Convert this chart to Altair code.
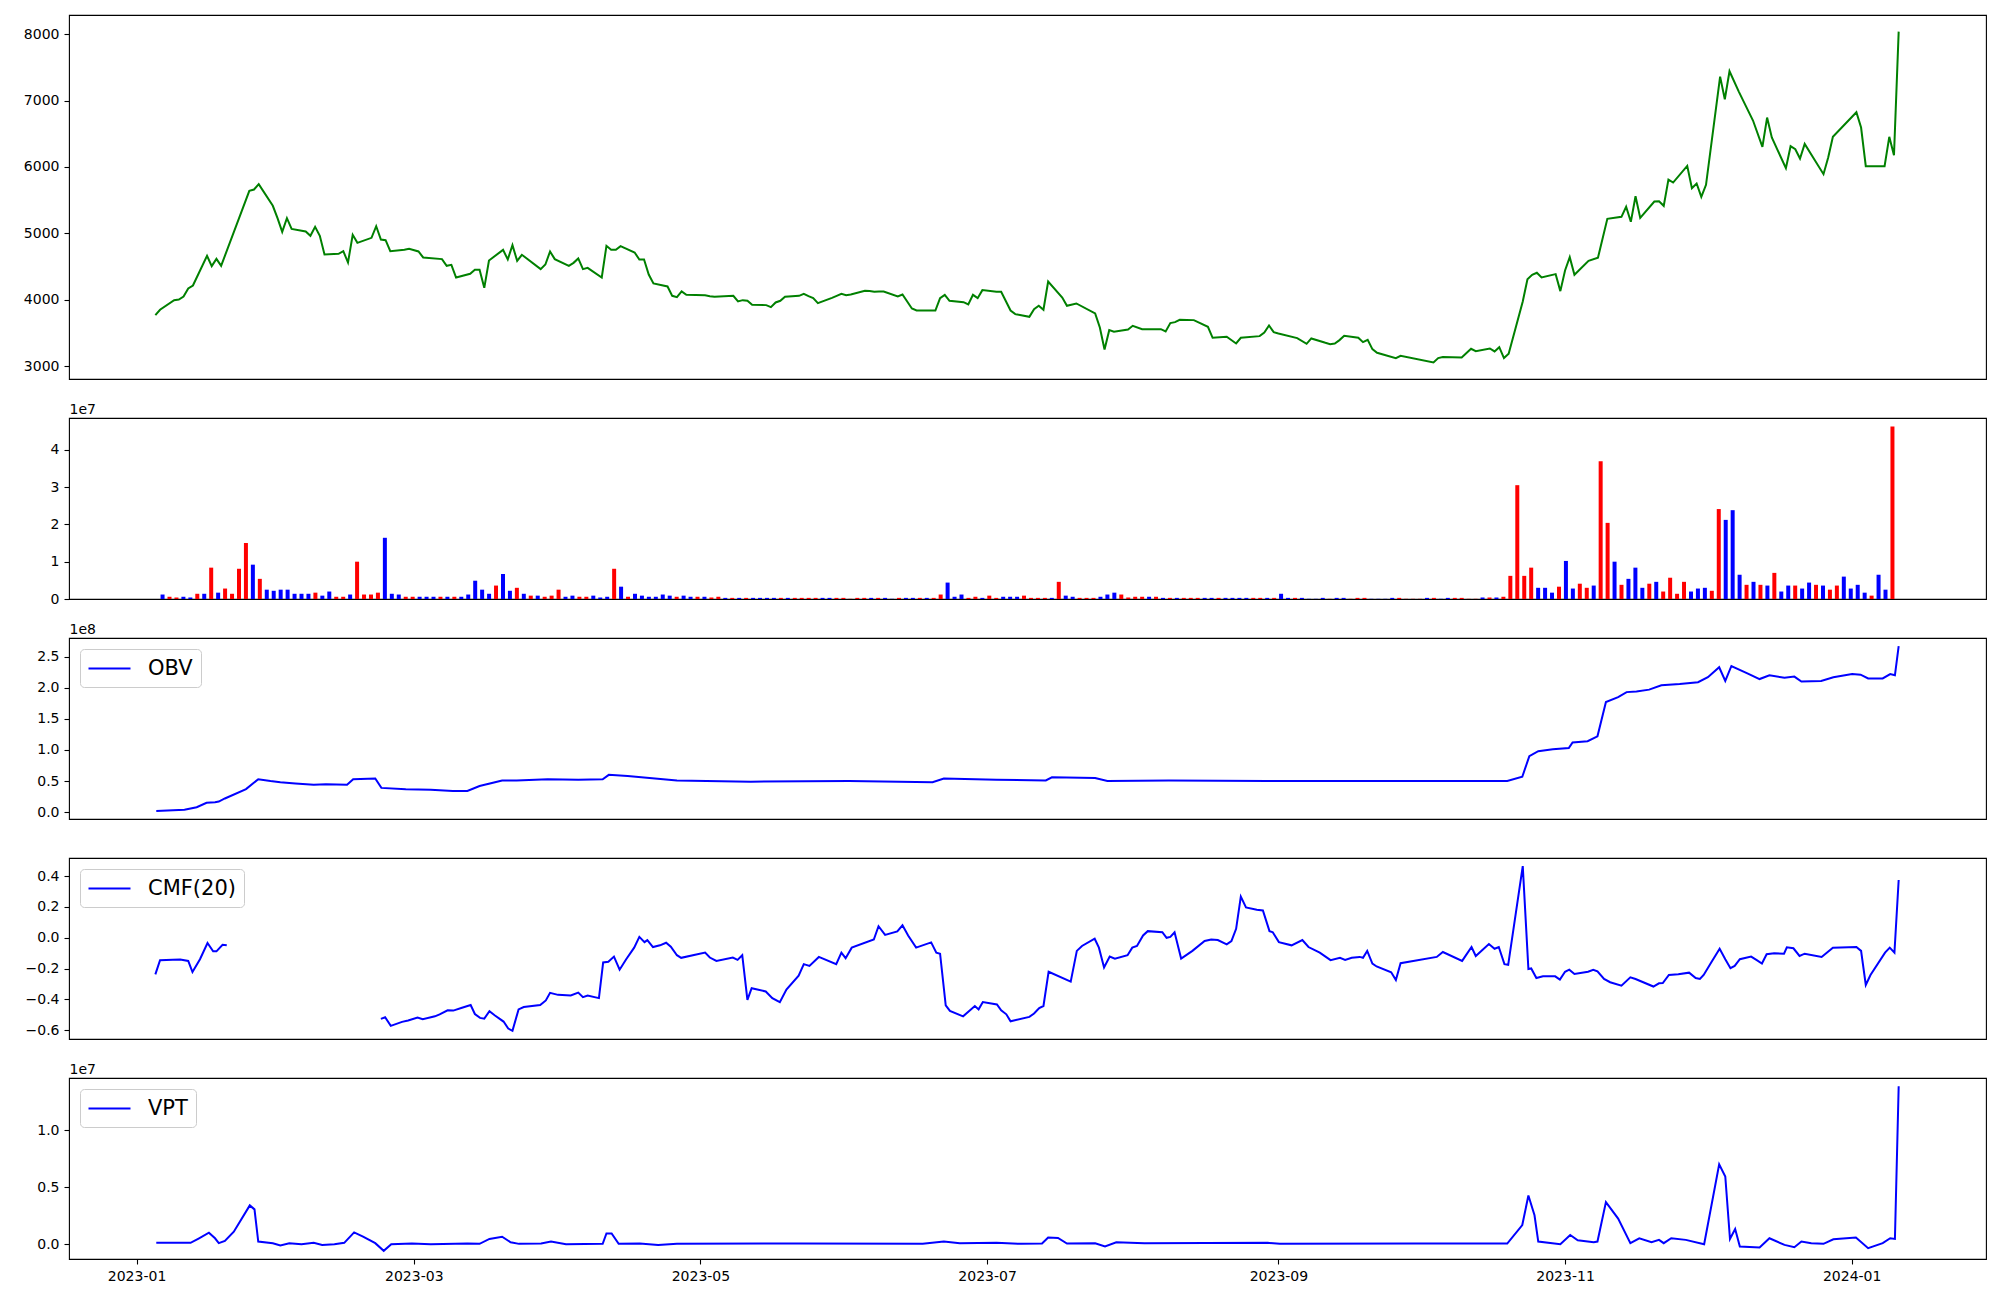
import altair as alt
import pandas as pd

# ---------------- data ----------------
# day offsets counted from 2023-01-01
price_day = [4, 5, 8, 9, 10, 11, 12, 15, 16, 17, 18, 24, 25, 26, 29, 30, 31, 32, 33, 36, 37, 38, 39, 40,
             43, 44, 45, 46, 47, 50, 51, 52, 53, 54, 57, 58, 60, 61, 65, 66, 67, 68, 71, 72, 73, 74, 75,
             78, 79, 80, 81, 82, 86, 87, 88, 89, 92, 93, 94, 95, 96, 99, 100, 101, 102, 103, 106, 107,
             108, 109, 110, 113, 114, 115, 116, 117, 121, 122, 123, 127, 128, 129, 130, 131, 134, 135,
             136, 137, 138, 141, 142, 143, 144, 145, 148, 149, 150, 151, 152, 155, 156, 157, 158, 159,
             162, 163, 165, 166, 170, 171, 172, 173, 176, 177, 178, 179, 180, 183, 184, 186, 187, 190,
             191, 192, 193, 194, 197, 198, 200, 204, 205, 206, 207, 208, 211, 212, 214, 218, 219, 220,
             221, 222, 225, 228, 229, 232, 234, 235, 239, 240, 241, 242, 243, 247, 249, 250, 253, 254,
             255, 256, 257, 260, 261, 262, 263, 264, 268, 269, 276, 277, 278, 282, 284, 285, 288, 289,
             290, 291, 292, 295, 296, 297, 298, 299, 302, 303, 304, 305, 306, 309, 311, 313, 316, 317,
             318, 319, 320, 323, 324, 325, 326, 327, 330, 331, 332, 333, 334, 337, 338, 339, 341, 344,
             346, 347, 348, 351, 352, 353, 354, 355, 359, 360, 361, 366, 367, 368, 372, 373, 374, 375]
price_val = [3768, 3849, 3994, 4004, 4049, 4170, 4215, 4662, 4506, 4616, 4511, 5641, 5661, 5741, 5415,
             5229, 5023, 5229, 5068, 5028, 4963, 5098, 4963, 4682, 4692, 4732, 4561, 4978, 4857, 4933,
             5108, 4908, 4898, 4732, 4752, 4767, 4727, 4637, 4612, 4511, 4526, 4335, 4391, 4451, 4451,
             4180, 4591, 4752, 4607, 4822, 4586, 4677, 4461, 4531, 4727, 4612, 4511, 4556, 4622, 4461,
             4481, 4335, 4812, 4752, 4752, 4807, 4712, 4607, 4607, 4380, 4245, 4200, 4059, 4039, 4125,
             4074, 4069, 4054, 4044, 4059, 3974, 3994, 3984, 3924, 3919, 3889, 3959, 3984, 4044, 4059,
             4089, 4054, 4024, 3949, 4029, 4059, 4089, 4069, 4079, 4135, 4130, 4120, 4125, 4125, 4049,
             4079, 3869, 3838, 3838, 4024, 4074, 3984, 3964, 3929, 4074, 4024, 4145, 4120, 4120, 3838,
             3783, 3743, 3859, 3909, 3849, 4275, 4034, 3909, 3944, 3793, 3582, 3251, 3542, 3517, 3552,
             3607, 3557, 3557, 3522, 3648, 3663, 3698, 3693, 3592, 3427, 3442, 3341, 3427, 3452, 3507,
             3612, 3512, 3492, 3422, 3336, 3417, 3351, 3331, 3341, 3392, 3457, 3427, 3361, 3397, 3256,
             3201, 3121, 3156, 3055, 3121, 3136, 3131, 3261, 3226, 3266, 3221, 3286, 3121, 3186, 3974,
             4310, 4376, 4406, 4335, 4386, 4130, 4441, 4642, 4376, 4586, 4632, 5219, 5249, 5400, 5174,
             5560, 5234, 5480, 5485, 5415, 5811, 5766, 6017, 5681, 5751, 5550, 5731, 7362, 7021, 7443,
             7132, 6700, 6303, 6745, 6444, 5982, 6313, 6268, 6127, 6348, 5892, 6143, 6454, 6825, 6594,
             6012, 6012, 6454, 6178, 8040]

# volume, in units of 1e7, one bar per session (bars are evenly spaced)
vol_val = [0.12, 0.06, 0.04, 0.06, 0.04, 0.14, 0.14, 0.84, 0.17, 0.28,
           0.14, 0.81, 1.50, 0.92, 0.54, 0.25, 0.22, 0.25, 0.25, 0.14,
           0.14, 0.14, 0.17, 0.09, 0.20, 0.06, 0.06, 0.12, 1.00, 0.12,
           0.12, 0.17, 1.64, 0.14, 0.12, 0.06, 0.06, 0.06, 0.06, 0.06,
           0.06, 0.06, 0.06, 0.06, 0.12, 0.49, 0.25, 0.14, 0.36, 0.67,
           0.22, 0.30, 0.14, 0.09, 0.09, 0.06, 0.09, 0.25, 0.06, 0.09,
           0.06, 0.06, 0.09, 0.04, 0.06, 0.81, 0.33, 0.06, 0.14, 0.09,
           0.06, 0.06, 0.12, 0.09, 0.06, 0.09, 0.06, 0.06, 0.06, 0.04,
           0.06, 0.03, 0.03, 0.03, 0.03, 0.03, 0.03, 0.03, 0.03, 0.03,
           0.03, 0.03, 0.03, 0.03, 0.03, 0.03, 0.03, 0.03, 0.03, 0.005,
           0.03, 0.03, 0.03, 0.03, 0.03, 0.005, 0.03, 0.03, 0.03, 0.03,
           0.03, 0.03, 0.12, 0.44, 0.06, 0.12, 0.03, 0.06, 0.03, 0.09,
           0.03, 0.06, 0.06, 0.06, 0.09, 0.03, 0.03, 0.03, 0.03, 0.46,
           0.09, 0.06, 0.03, 0.03, 0.03, 0.06, 0.12, 0.17, 0.12, 0.04,
           0.06, 0.06, 0.06, 0.06, 0.03, 0.03, 0.03, 0.03, 0.03, 0.03,
           0.03, 0.03, 0.03, 0.03, 0.03, 0.03, 0.03, 0.03, 0.03, 0.03,
           0.03, 0.14, 0.03, 0.03, 0.03, 0.005, 0.005, 0.03, 0.005, 0.03,
           0.03, 0.005, 0.03, 0.03, 0.005, 0.005, 0.005, 0.03, 0.03, 0.005,
           0.005, 0.005, 0.03, 0.03, 0.005, 0.03, 0.03, 0.03, 0.005, 0.005,
           0.04, 0.04, 0.04, 0.06, 0.62, 3.05, 0.62, 0.84, 0.30, 0.30,
           0.17, 0.33, 1.02, 0.28, 0.41, 0.30, 0.36, 3.69, 2.04, 1.00,
           0.38, 0.54, 0.84, 0.30, 0.41, 0.46, 0.20, 0.57, 0.14, 0.46,
           0.20, 0.28, 0.30, 0.22, 2.41, 2.12, 2.38, 0.65, 0.38, 0.46,
           0.38, 0.36, 0.70, 0.20, 0.36, 0.36, 0.28, 0.44, 0.38, 0.36,
           0.25, 0.36, 0.60, 0.28, 0.38, 0.17, 0.09, 0.65, 0.25, 4.62]
# r = red bar, b = blue bar
vol_dir = list("brrbbrbrbr" "rrrbrbbbbb" "bbrbbrrbrr" "rrbbbrrbbb" "rbrbbbbbrb"
               "brbrbrrrbb" "rrbbbrbrbb" "bbbbrbbrbr" "rbrbrbbbbr" "brrrrbbrrr"
               "rrbrbbrbbr" "brrbbbrrbr" "rbbbrrrrbr" "bbrrrbbbrr" "rrbrbrbrrr"
               "bbrbbbbrrb" "rbbrbbbbrb" "brrrbbbbrr" "rrbrbbrrrr" "brbrrrrrbb"
               "brbbrrbrrb" "rbbbrbrrrr" "bbbrrbbbrb" "rbrbbrbbrb" "rrbbbbrbbr")
vol_first_day = 4.57
vol_last_day = 374.64

# OBV, in units of 1e8
obv_day = [4.2, 10.2, 12.8, 14.9, 16.7, 17.5, 18.8, 23.3, 25.9, 28.5, 30.6, 33.8, 37.7, 40.3, 44.8,
           46.1, 50.8, 52.1, 57.3, 62.6, 67.3, 70.4, 73.0, 77.8, 80.9, 87.5, 94.0, 99.2, 100.5, 104.5,
           115, 130.7, 151.6, 169.4, 171.8, 183, 193.5, 194.8, 204, 206.6, 219.7, 240.7, 272.1,
           291.7, 294.9, 296.4, 298.3, 301.4, 304.8, 305.6, 308.8, 310.9, 312.7, 315.3, 317.1, 319.2,
           321.9, 324.5, 328.4, 332.3, 334.4, 336.8, 338.1, 339.4, 342.8, 345.4, 347.5, 350.7, 352.8,
           354.3, 358.5, 361.1, 365.1, 366.9, 368.5, 371.6, 373.2, 374.2, 375]
obv_val = [0.02, 0.04, 0.08, 0.15, 0.16, 0.17, 0.22, 0.37, 0.53, 0.50, 0.48, 0.46, 0.44, 0.45, 0.44,
           0.53, 0.54, 0.39, 0.37, 0.36, 0.34, 0.34, 0.42, 0.51, 0.51, 0.53, 0.52, 0.53, 0.60, 0.58,
           0.51, 0.49, 0.50, 0.48, 0.54, 0.52, 0.51, 0.56, 0.55, 0.50, 0.51, 0.50, 0.50,
           0.50, 0.57, 0.90, 0.98, 1.01, 1.03, 1.12, 1.14, 1.22, 1.77, 1.85, 1.93, 1.94,
           1.97, 2.04, 2.06, 2.09, 2.17, 2.33, 2.11, 2.35, 2.23, 2.14, 2.20, 2.16, 2.18,
           2.10, 2.11, 2.17, 2.22, 2.21, 2.15, 2.15, 2.22, 2.20, 2.67]

# CMF(20): two pieces, no values in between
cmf1_day = [4.0, 5.0, 7.7, 9.3, 11.0, 11.9, 13.5, 15.1, 16.3, 17.0, 18.3, 19.2]
cmf1_val = [-0.237, -0.145, -0.143, -0.141, -0.150, -0.222, -0.139, -0.034, -0.088, -0.088, -0.045, -0.049]
cmf2_day = [52.0, 52.9, 54.1, 56.5, 57.8, 59.8, 60.9, 63.5, 64.5, 66.2, 67.4, 69.1, 71.1, 72.0, 73.1,
            74.0, 75.1, 76.2, 78.1, 79.1, 80.0, 81.3, 82.4, 85.9, 87.1, 88.0, 89.7, 92.4, 94.0, 95.0,
            96.0, 98.4, 99.3, 100.4, 101.6, 102.8, 104.2, 105.9, 107.0, 108.1, 108.7, 109.9, 111.4,
            112.7, 113.7, 115.0, 115.9, 121.0, 122.0, 123.4, 126.9, 127.9, 128.9, 130.0, 130.9, 133.9,
            135.3, 136.9, 138.3, 140.9, 142.0, 143.2, 145.2, 148.9, 150.0, 150.9, 152.2, 156.9, 157.9,
            159.3, 161.9, 163.0, 164.2, 165.9, 169.1, 170.2, 171.0, 172.2, 173.1, 175.9, 178.4, 179.2,
            180.1, 183.1, 184.0, 185.1, 186.0, 190.0, 191.0, 192.1, 193.0, 194.1, 198.8, 200.1, 201.2,
            203.9, 204.8, 205.9, 207.1, 208.2, 210.9, 211.9, 212.9, 214.2, 215.2, 218.3, 219.2, 220.0,
            220.9, 222.3, 224.7, 227.3, 228.7, 230.1, 232.0, 233.0, 234.0, 235.0, 236.1, 238.4, 239.7,
            241.1, 241.8, 243.1, 245.8, 248.1, 249.4, 251.8, 254.1, 256.1, 257.2, 258.6, 260.3, 261.0,
            261.9, 263.0, 263.9, 267.0, 268.0, 269.0, 276.7, 278.0, 282.1, 284.1, 285.0, 287.8, 289.0,
            289.9, 291.1, 291.9, 295.0, 296.2, 296.8, 297.9, 299.3, 301.9, 302.9, 304.0, 304.9, 306.0,
            308.9, 310.0, 310.9, 312.3, 313.6, 316.0, 317.9, 319.0, 322.8, 324.0, 324.8, 326.1, 328.1,
            330.4, 331.8, 332.7, 333.5, 335.1, 336.9, 338.1, 339.2, 340.1, 341.2, 343.6, 344.8, 345.9,
            346.9, 348.5, 350.6, 351.2, 352.6, 353.9, 355.0, 358.6, 361.0, 366.0, 367.0, 368.0, 369.0,
            372.1, 373.1, 374.1, 375.0]
cmf2_val = [-0.526, -0.515, -0.571, -0.545, -0.536, -0.517, -0.528, -0.509, -0.496, -0.470, -0.472,
            -0.455, -0.436, -0.494, -0.519, -0.524, -0.476, -0.502, -0.543, -0.588, -0.603, -0.464,
            -0.449, -0.436, -0.406, -0.357, -0.370, -0.374, -0.355, -0.385, -0.374, -0.391, -0.160,
            -0.156, -0.122, -0.207, -0.139, -0.064, 0.006, -0.028, -0.015, -0.060, -0.049, -0.032,
            -0.058, -0.113, -0.130, -0.096, -0.128, -0.150, -0.128, -0.143, -0.113, -0.402, -0.327,
            -0.348, -0.391, -0.417, -0.335, -0.246, -0.171, -0.182, -0.124, -0.171, -0.096, -0.132,
            -0.064, -0.011, 0.075, 0.019, 0.041, 0.081, 0.015, -0.064, -0.030, -0.096, -0.103, -0.438,
            -0.474, -0.509, -0.442, -0.464, -0.417, -0.432, -0.470, -0.496, -0.541, -0.513, -0.491,
            -0.455, -0.442, -0.220, -0.284, -0.085, -0.053, -0.006, -0.064, -0.192, -0.122, -0.135,
            -0.113, -0.064, -0.053, 0.015, 0.043, 0.036, 0.000, 0.006, 0.036, -0.135, -0.085, -0.021,
            -0.011, -0.015, -0.043, -0.021, 0.058, 0.267, 0.197, 0.182, 0.177, 0.043, 0.036, -0.028,
            -0.049, -0.015, -0.060, -0.096, -0.145, -0.130, -0.143, -0.130, -0.124, -0.130, -0.085,
            -0.167, -0.186, -0.224, -0.274, -0.165, -0.124, -0.092, -0.150, -0.060, -0.118, -0.041,
            -0.071, -0.060, -0.171, -0.175, 0.464, -0.203, -0.199, -0.261, -0.250, -0.250, -0.271,
            -0.220, -0.207, -0.235, -0.220, -0.207, -0.218, -0.267, -0.288, -0.310, -0.256, -0.267,
            -0.316, -0.295, -0.293, -0.241, -0.237, -0.226, -0.261, -0.267, -0.241, -0.160, -0.071,
            -0.139, -0.197, -0.182, -0.139, -0.122, -0.145, -0.167, -0.107, -0.100, -0.103, -0.062,
            -0.068, -0.118, -0.103, -0.124, -0.064, -0.060, -0.085, -0.306, -0.241, -0.096, -0.064,
            -0.096, 0.374]

# VPT, in units of 1e7
vpt_day = [4.2, 11.5, 13.3, 15.4, 16.7, 17.5, 18.8, 20.7, 24.1, 25.1, 25.9, 29.0, 30.6, 32.5, 35.1,
           37.7, 39.5, 42.1, 44.2, 46.3, 48.2, 50.8, 52.6, 54.2, 58.6, 62.6, 70.4, 73.0, 75.1, 77.8,
           79.6, 81.4, 86.1, 88.2, 91.4, 99.2, 100.0, 101.1, 102.6, 107.1, 111.0, 115.0, 141.1, 167.3,
           171.8, 175.2, 183.0, 188.3, 192.7, 194.0, 196.1, 198.0, 204.0, 206.1, 208.5, 214.5, 240.7,
           243.3, 272.1, 291.7, 294.9, 296.2, 297.5, 298.3, 303.0, 305.1, 306.7, 310.1, 310.9, 312.7,
           315.3, 317.9, 319.8, 322.4, 324.0, 325.0, 326.6, 329.7, 333.6, 336.8, 338.1, 339.1, 340.2,
           341.2, 345.4, 347.5, 350.7, 352.8, 354.3, 356.4, 359.0, 361.1, 365.9, 368.5, 371.6, 373.2,
           374.2, 375.0]
vpt_val = [0.012, 0.012, 0.052, 0.101, 0.052, 0.009, 0.029, 0.110, 0.341, 0.306, 0.023, 0.009, -0.012,
           0.009, 0.000, 0.012, -0.006, 0.000, 0.012, 0.104, 0.066, 0.009, -0.058, 0.000, 0.006, 0.000,
           0.006, 0.003, 0.046, 0.066, 0.017, 0.003, 0.006, 0.023, 0.000, 0.003, 0.095, 0.095, 0.003,
           0.006, -0.006, 0.003, 0.006, 0.003, 0.023, 0.009, 0.012, 0.003, 0.006, 0.058, 0.055, 0.006,
           0.009, -0.020, 0.017, 0.009, 0.012, 0.003, 0.006, 0.006, 0.168, 0.428, 0.254, 0.023, 0.000,
           0.081, 0.035, 0.017, 0.023, 0.370, 0.225, 0.009, 0.052, 0.017, 0.038, 0.009, 0.052, 0.038,
           0.000, 0.702, 0.595, 0.046, 0.133, -0.020, -0.029, 0.052, -0.006, -0.026, 0.023, 0.009,
           0.003, 0.043, 0.058, -0.035, 0.009, 0.052, 0.046, 1.387]

x_ticks = [(2023, 1), (2023, 3), (2023, 5), (2023, 7), (2023, 9), (2023, 11), (2024, 1)]

# ---------------- build ----------------
BASE = pd.Timestamp("2023-01-01")


def to_dates(days):
    return [BASE + pd.Timedelta(days=float(d)) for d in days]


price_df = pd.DataFrame({"date": to_dates(price_day), "price": price_val})
vol_df = pd.DataFrame({
    "date": pd.date_range(BASE + pd.Timedelta(days=vol_first_day),
                          BASE + pd.Timedelta(days=vol_last_day), periods=len(vol_val)),
    "vol": vol_val,
    "dir": vol_dir,
})
obv_df = pd.DataFrame({"date": to_dates(obv_day), "v": obv_val, "name": "OBV"})
cmf_df = pd.concat([
    pd.DataFrame({"date": to_dates(cmf1_day), "v": cmf1_val, "seg": "a"}),
    pd.DataFrame({"date": to_dates(cmf2_day), "v": cmf2_val, "seg": "b"}),
], ignore_index=True)
cmf_df["name"] = "CMF(20)"
vpt_df = pd.DataFrame({"date": to_dates(vpt_day), "v": vpt_val, "name": "VPT"})

FONT = "DejaVu Sans"
W = 1917
H_SMALL = 181

xscale = alt.Scale(domain=[alt.DateTime(year=2022, month=12, date=17, hours=15),
                           alt.DateTime(year=2024, month=1, date=29, hours=14)])
x_hidden = alt.X("date:T", scale=xscale, axis=None)
x_bottom = alt.X("date:T", scale=xscale,
                 axis=alt.Axis(values=[alt.DateTime(year=y, month=m, date=1) for y, m in x_ticks],
                               format="%Y-%m", title=None, labelFlush=False,
                               tickSize=5, labelPadding=5))


def yaxis(values, fmt, offset_text=None):
    kw = dict(values=values, title=offset_text, format=fmt)
    if offset_text:
        kw.update(titleAngle=0, titleAlign="left", titleBaseline="alphabetic",
                  titleX=0, titleY=-5)
    return alt.Axis(**kw)


def legend():
    # a wide line-sample glyph: 2x as wide as the legend row is tall
    return alt.Legend(title=None, orient="top-left", offset=11, padding=8,
                      labelFont=FONT, labelFontSize=21, labelColor="black",
                      symbolType="M-2,0L2,0", symbolSize=441, symbolStrokeWidth=2,
                      symbolOffset=10, labelOffset=27, strokeColor="#cccccc",
                      fillColor="rgba(255,255,255,0.8)", cornerRadius=4)


price = alt.Chart(price_df).mark_line(color="#008000", strokeWidth=2).encode(
    x=x_hidden,
    y=alt.Y("price:Q", scale=alt.Scale(domain=[2806, 8290], nice=False, zero=False),
            axis=yaxis([3000, 4000, 5000, 6000, 7000, 8000], "d")),
).properties(width=W, height=364)

vol = alt.Chart(vol_df).mark_bar(size=4).encode(
    x=x_hidden,
    y=alt.Y("vol:Q", scale=alt.Scale(domain=[0, 4.85], nice=False),
            axis=yaxis([0, 1, 2, 3, 4], "d", "1e7")),
    color=alt.Color("dir:N", scale=alt.Scale(domain=["r", "b"], range=["red", "blue"]), legend=None),
).properties(width=W, height=H_SMALL)

obv = alt.Chart(obv_df).mark_line(strokeWidth=2).encode(
    x=x_hidden,
    y=alt.Y("v:Q", scale=alt.Scale(domain=[-0.11, 2.80], nice=False, zero=False),
            axis=yaxis([0, 0.5, 1.0, 1.5, 2.0, 2.5], ".1f", "1e8")),
    color=alt.Color("name:N", scale=alt.Scale(domain=["OBV"], range=["blue"]), legend=legend()),
).properties(width=W, height=H_SMALL)

cmf = alt.Chart(cmf_df).mark_line(strokeWidth=2).encode(
    x=x_hidden,
    y=alt.Y("v:Q", scale=alt.Scale(domain=[-0.656, 0.517], nice=False, zero=False),
            axis=yaxis([-0.6, -0.4, -0.2, 0.0, 0.2, 0.4], ".1f")),
    color=alt.Color("name:N", scale=alt.Scale(domain=["CMF(20)"], range=["blue"]), legend=legend()),
    detail="seg:N",
).properties(width=W, height=H_SMALL)

vpt = alt.Chart(vpt_df).mark_line(strokeWidth=2).encode(
    x=x_bottom,
    y=alt.Y("v:Q", scale=alt.Scale(domain=[-0.13, 1.46], nice=False, zero=False),
            axis=yaxis([0.0, 0.5, 1.0], ".1f", "1e7")),
    color=alt.Color("name:N", scale=alt.Scale(domain=["VPT"], range=["blue"]), legend=legend()),
).properties(width=W, height=H_SMALL)

chart = alt.vconcat(price, vol, obv, cmf, vpt, spacing=39, bounds="flush").resolve_scale(
    color="independent", y="independent"
).properties(
    padding={"left": 14, "top": 6, "right": 5, "bottom": 5}
).configure_axis(
    labelFont=FONT, labelFontSize=14, labelColor="black", tickColor="black", tickWidth=1.1,
    tickSize=5, labelPadding=5, domain=False, grid=False, titleFont=FONT, titleFontSize=14,
    titleFontWeight="normal", titleColor="black",
).configure_view(stroke="black", strokeWidth=1.1)

chart.save("out.html", embed_options={"renderer": "svg", "actions": False})
